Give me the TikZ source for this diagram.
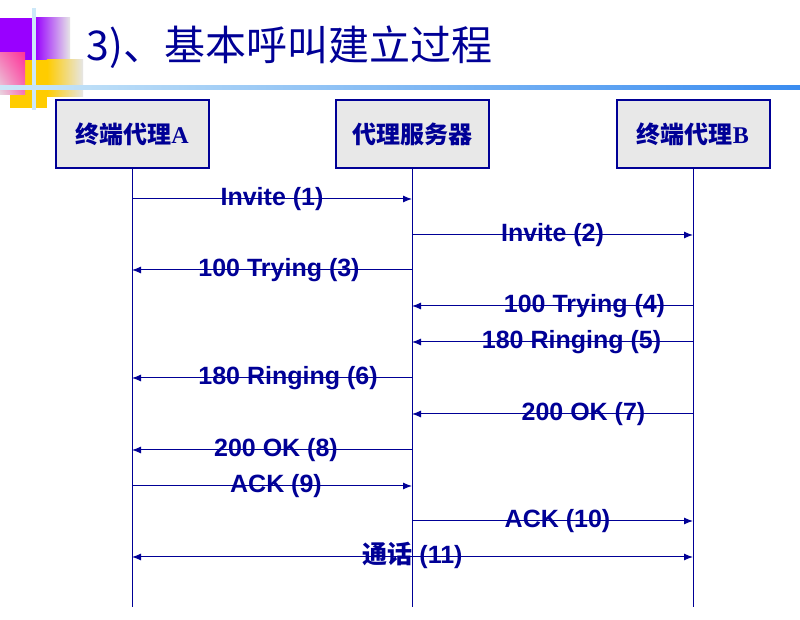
\documentclass[tikz,border=0pt]{standalone}
\usepackage{fontspec}
\setmainfont{Liberation Serif}
\newfontfamily\cjk{Noto Sans CJK SC}
\newfontfamily\arialbd{Liberation Sans}
\usetikzlibrary{arrows.meta,positioning,shadings}
\definecolor{sipblue}{RGB}{0,0,150}
\definecolor{boxgray}{RGB}{232,232,232}
\definecolor{decopurple}{RGB}{153,0,255}
\definecolor{decoyellow}{RGB}{255,204,0}
\definecolor{decopink}{RGB}{255,51,153}
\definecolor{decopale}{RGB}{232,214,224}
\definecolor{decogray}{RGB}{230,230,230}
\definecolor{rulelight}{RGB}{204,232,248}
\definecolor{ruledark}{RGB}{58,140,240}
\tikzset{
  agent/.style={draw=sipblue, line width=1pt, fill=boxgray, minimum width=76.5pt,
    minimum height=34pt, inner sep=0pt, text=sipblue},
  life/.style={draw=sipblue, line width=0.5pt},
  msg/.style={draw=sipblue, line width=0.5pt, -{Latex[length=4.5pt,width=3.5pt]}},
  lbl/.style={anchor=base, yshift=-3.5pt, text=sipblue, inner sep=0pt,
    font=\arialbd\bfseries\fontsize{12.5}{14}\selectfont}
}
\newcommand{\boxfont}{\bfseries\fontsize{12}{14}\selectfont}
\begin{document}
\begin{tikzpicture}[x=0.5pt,y=-0.5pt]
        \useasboundingbox (0,0) rectangle (800,620);
        \fill [white] (0,0) rectangle (800,620);
        \fill [decopurple] (0,18) rectangle (35,60);
        \shade [left color=decopurple, right color=decogray] (35,18) rectangle (70,60);
        \fill [decoyellow] (10,60) rectangle (47,108);
        \shade [left color=decoyellow, right color=decogray] (47,60) rectangle (83,97);
        \shade [upper right=decopink, lower left=decopale, upper left=decopink!60!decopale,
          lower right=decopink!60!decopale] (0,53) rectangle (25,95);
        \fill [rulelight] (32,8) rectangle (36,110);
        \shade [left color=rulelight, right color=ruledark] (0,86) rectangle (800,90);
        \node [anchor=base west, text=sipblue, inner sep=0pt,
          font=\cjk\fontsize{20.5}{24}\selectfont] (title) at (86,61) {3)、基本呼叫建立过程};
        \node [agent] (ua) at (132,134) {{\cjk\boxfont 终端代理}{\boxfont A}};
        \node [agent] (proxy) at (412,134) {{\cjk\boxfont 代理服务器}};
        \node [agent] (ub) at (693,134) {{\cjk\boxfont 终端代理}{\boxfont B}};
        \coordinate (ua-end) at (132,607);
        \coordinate (proxy-end) at (412,607);
        \coordinate (ub-end) at (693,607);
        \draw [life] (ua) -- (ua-end);
        \draw [life] (proxy) -- (proxy-end);
        \draw [life] (ub) -- (ub-end);
        \coordinate (t1) at (0,199);
        \coordinate (t2) at (0,235);
        \coordinate (t3) at (0,270);
        \coordinate (t4) at (0,306);
        \coordinate (t5) at (0,342);
        \coordinate (t6) at (0,378);
        \coordinate (t7) at (0,414);
        \coordinate (t8) at (0,450);
        \coordinate (t9) at (0,486);
        \coordinate (t10) at (0,521);
        \coordinate (t11) at (0,557);
        \draw [msg] (ua |- t1) -- node [lbl] {Invite (1)} (proxy |- t1);
        \draw [msg] (proxy |- t2) -- node [lbl] {Invite (2)} (ub |- t2);
        \draw [msg] (proxy |- t3) -- node [lbl, xshift=3.5pt] {100 Trying (3)} (ua |- t3);
        \draw [msg] (ub |- t4) -- node [lbl, xshift=16pt] {100 Trying (4)} (proxy |- t4);
        \draw [msg] (ub |- t5) -- node [lbl, xshift=9.5pt] {180 Ringing (5)} (proxy |- t5);
        \draw [msg] (proxy |- t6) -- node [lbl, xshift=8pt] {180 Ringing (6)} (ua |- t6);
        \draw [msg] (ub |- t7) -- node [lbl, xshift=15.5pt] {200 OK (7)} (proxy |- t7);
        \draw [msg] (proxy |- t8) -- node [lbl, xshift=2pt] {200 OK (8)} (ua |- t8);
        \draw [msg] (ua |- t9) -- node [lbl, xshift=2pt] {ACK (9)} (proxy |- t9);
        \draw [msg] (proxy |- t10) -- node [lbl, xshift=2.5pt] {ACK (10)} (ub |- t10);
        \draw [msg, {Latex[length=4.5pt,width=3.5pt]}-{Latex[length=4.5pt,width=3.5pt]}] (ua |- t11)
          -- node [lbl] {{\cjk\bfseries 通话} (11)} (ub |- t11);
\end{tikzpicture}
\end{document}
